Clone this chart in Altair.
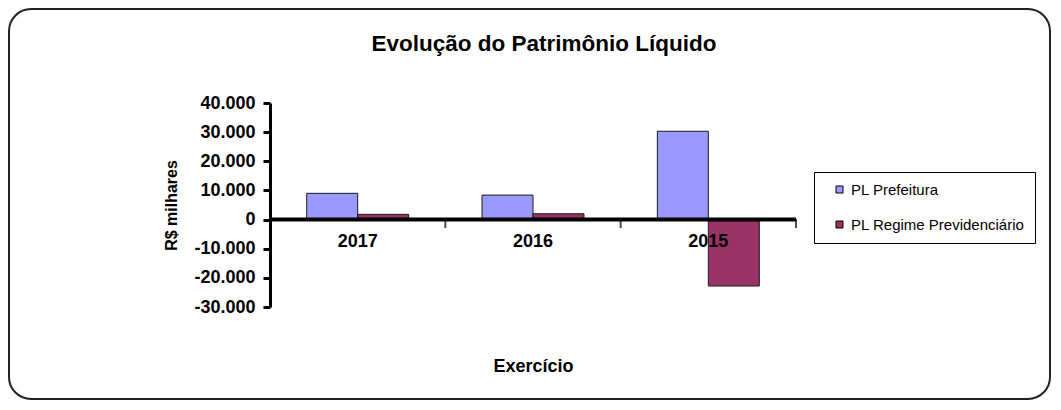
import altair as alt
import pandas as pd

years = ["2017", "2016", "2015"]
series_names = ["PL Prefeitura", "PL Regime Previdenciário"]
pl_prefeitura = [9000, 8400, 30300]
pl_regime = [1800, 2000, -22800]
y_ticks = [-30000, -20000, -10000, 0, 10000, 20000, 30000, 40000]
chart_title = "Evolução do Patrimônio Líquido"
y_title = "R$ milhares"
x_title = "Exercício"

rows = []
for i, yr in enumerate(years):
    rows.append({"ano": yr, "serie": series_names[0], "valor": pl_prefeitura[i]})
    rows.append({"ano": yr, "serie": series_names[1], "valor": pl_regime[i]})
df = pd.DataFrame(rows)
df_years = pd.DataFrame({"ano": years})
df_one = pd.DataFrame({"t": [chart_title]})

W, H = 526, 204
FONT = "Liberation Sans"

xscale = alt.Scale(domain=years, paddingInner=0, paddingOuter=0)
yscale = alt.Scale(domain=[-30000, 40000], nice=False, zero=False)

label_expr = "(datum.value < 0 ? '-' : '') + replace(format(abs(datum.value), ','), ',', '.')"
y_axis = alt.Axis(title=y_title, values=y_ticks, tickCount=8, labelExpr=label_expr,
                  labelOverlap=False)
x_axis = alt.Axis(title=x_title)

bars = alt.Chart(df).mark_bar(stroke="#1a1a1a", strokeWidth=1).encode(
    x=alt.X("ano:N", scale=xscale, sort=years, axis=x_axis),
    xOffset=alt.XOffset("serie:N", sort=series_names,
                        scale=alt.Scale(paddingOuter=0.72, paddingInner=0)),
    y=alt.Y("valor:Q", scale=yscale, axis=y_axis),
    color=alt.Color("serie:N", sort=series_names,
                    scale=alt.Scale(domain=series_names, range=["#9999FF", "#993366"]),
                    legend=alt.Legend(title=None, orient="none", legendX=544, legendY=69,
                                      symbolType="square", symbolSize=49,
                                      symbolStrokeColor="black", symbolStrokeWidth=1,
                                      labelFontSize=15, labelFont=FONT, labelColor="black",
                                      labelLimit=400,
                                      strokeColor="black", padding=10, rowPadding=19,
                                      symbolOffset=8, labelOffset=4)),
)

zero_line = alt.Chart(df_one).mark_rule(color="black", strokeWidth=4).encode(
    y=alt.YDatum(0, scale=yscale, axis=y_axis), x=alt.value(0), x2=alt.value(W)
)

ticks = alt.Chart(df_years).mark_tick(color="black", thickness=2, size=9, yOffset=4,
                                      orient="vertical").encode(
    x=alt.X("ano:N", scale=xscale, sort=years, bandPosition=1, axis=x_axis),
    y=alt.YDatum(0, scale=yscale, axis=y_axis),
)

year_labels = alt.Chart(df_years).mark_text(fontSize=18, font=FONT, fontWeight="bold",
                                            color="black", dy=22, baseline="middle").encode(
    x=alt.X("ano:N", scale=xscale, sort=years, axis=x_axis),
    y=alt.YDatum(0, scale=yscale, axis=y_axis),
    text="ano:N",
)

title_text = alt.Chart(df_one).mark_text(fontSize=22.5, font=FONT, fontWeight="bold",
                                         color="black", baseline="middle", align="center").encode(
    x=alt.value(274), y=alt.value(-59), text="t:N"
)

frame = alt.Chart(df_one).mark_rect(fill="transparent", stroke="#222222", strokeWidth=2,
                                    cornerRadius=22).encode(
    x=alt.value(-261), x2=alt.value(780), y=alt.value(-94), y2=alt.value(296)
)

chart = alt.layer(frame, bars, zero_line, ticks, year_labels, title_text).properties(
    width=W, height=H, padding=0, background="white"
).configure_view(
    stroke="transparent", strokeWidth=0
).configure_axisX(
    labels=False, ticks=False, domain=False, grid=False,
    titlePadding=50, titleFontSize=18, titleFont=FONT,
    titleFontWeight="bold", titleColor="black"
).configure_axisY(
    labelOverlap=False, grid=False, domainColor="black", domainWidth=3,
    tickColor="black", tickWidth=3, tickSize=7,
    labelFontSize=18, labelFont=FONT, labelFontWeight="bold",
    labelColor="black", labelPadding=8,
    titleFontSize=16, titleFont=FONT, titleFontWeight="bold",
    titleColor="black", titlePadding=14
)

chart.save("out.html", embed_options={"renderer": "svg", "actions": False})
